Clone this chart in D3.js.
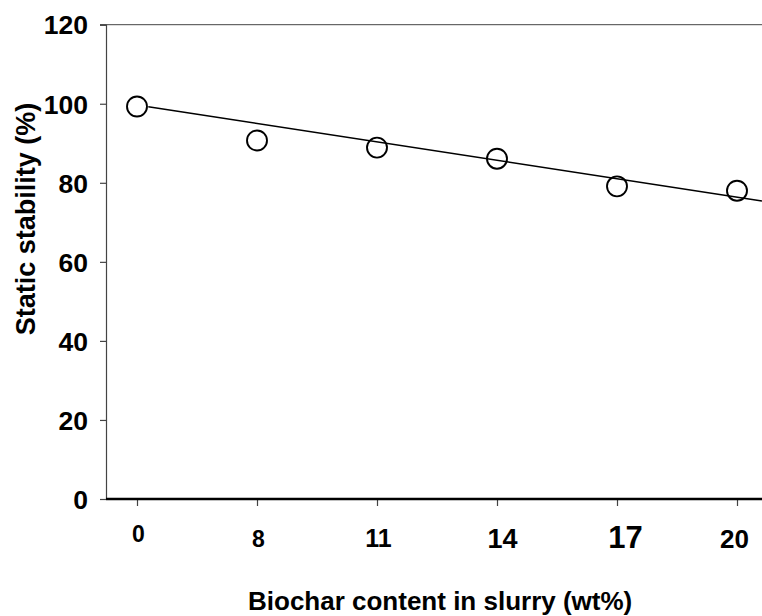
<!DOCTYPE html>
<html>
<head>
<meta charset="utf-8">
<script src="https://cdn.jsdelivr.net/npm/d3@7"></script>
<style>
  html, body { margin: 0; padding: 0; background: #fff; }
  svg { display: block; font-family: "Liberation Sans", Arial, sans-serif; font-weight: bold; }
</style>
</head>
<body>
<svg id="chart" width="762" height="616"></svg>
<script>
// Biochar content categories (wt%) and measured static stability (%)
const categories = ["0", "8", "11", "14", "17", "20"];
const stability = [99.3, 90.7, 88.9, 86.1, 79.1, 78.0];

// Linear trend line, endpoints given as (category index, stability %)
const trendIndex = [0.094, 5.208];
const trendValue = [99.25, 75.4];

// Y axis ticks
const yTicks = [0, 20, 40, 60, 80, 100, 120];

// Per-label type sizes and offsets for the category axis
const xLabelSize = { "0": 23, "8": 23, "11": 25, "14": 27, "17": 31, "20": 26 };
const xLabelShift = { "0": 1, "8": 1, "11": 1, "14": 5, "17": 8, "20": -3 };
const xLabelDrop = { "0": 43, "8": 48, "11": 48, "14": 49, "17": 49, "20": 49 };

const svg = d3.select("#chart");
const plot = { left: 106, right: 762, top: 24.7, bottom: 499 };

const y = d3.scaleLinear().domain([0, 120]).range([plot.bottom, plot.top]);
const x = d3.scalePoint().domain(categories).range([137, 737]);
const xi = d3.scaleLinear().domain([0, categories.length - 1]).range([137, 737]);

// top frame line
svg.append("line")
  .attr("x1", plot.left - 6).attr("x2", plot.right)
  .attr("y1", y(120)).attr("y2", y(120))
  .attr("stroke", "#444").attr("stroke-width", 1);

// Y axis
const yAxis = svg.append("g")
  .attr("transform", `translate(${plot.left},0)`)
  .call(d3.axisLeft(y).tickValues(yTicks).tickSize(6).tickPadding(12));
yAxis.select(".domain").attr("stroke", "#444").attr("stroke-width", 1.2);
yAxis.selectAll(".tick line").attr("stroke", "#444").attr("stroke-width", 1.2);
yAxis.selectAll(".tick text")
  .attr("font-size", 26.5).attr("font-weight", "bold").attr("fill", "#000")
  .attr("font-family", "Liberation Sans, Arial, sans-serif")
  .attr("dy", "0.35em");

// X axis
const xAxis = svg.append("g")
  .attr("transform", `translate(0,${plot.bottom})`)
  .call(d3.axisBottom(x).tickSize(7).tickPadding(0));
xAxis.select(".domain").remove();
xAxis.selectAll(".tick line").attr("stroke", "#444").attr("stroke-width", 1.2);
xAxis.selectAll(".tick text")
  .attr("font-size", d => xLabelSize[d])
  .attr("font-weight", "bold").attr("fill", "#000")
  .attr("font-family", "Liberation Sans, Arial, sans-serif")
  .attr("dy", null)
  .attr("y", d => xLabelDrop[d])
  .attr("x", d => xLabelShift[d]);
svg.append("line")
  .attr("x1", plot.left).attr("x2", plot.right)
  .attr("y1", plot.bottom).attr("y2", plot.bottom)
  .attr("stroke", "#000").attr("stroke-width", 2.4);

// data points
svg.append("g").selectAll("circle")
  .data(stability)
  .join("circle")
  .attr("cx", (d, i) => x(categories[i]))
  .attr("cy", d => y(d))
  .attr("r", 10)
  .attr("fill", "#fff")
  .attr("stroke", "#000")
  .attr("stroke-width", 1.9);

// trend line
svg.append("path")
  .datum(trendIndex.map((t, i) => [t, trendValue[i]]))
  .attr("d", d3.line().x(d => xi(d[0])).y(d => y(d[1])))
  .attr("fill", "none")
  .attr("stroke", "#000")
  .attr("stroke-width", 1.4);

// axis titles
svg.append("text")
  .attr("transform", "translate(35,219) rotate(-90)")
  .attr("text-anchor", "middle")
  .attr("font-size", 27)
  .text("Static stability (%)");

svg.append("text")
  .attr("x", 248)
  .attr("y", 610)
  .attr("text-anchor", "start")
  .attr("font-size", 26)
  .text("Biochar content in slurry (wt%)");
</script>
</body>
</html>
